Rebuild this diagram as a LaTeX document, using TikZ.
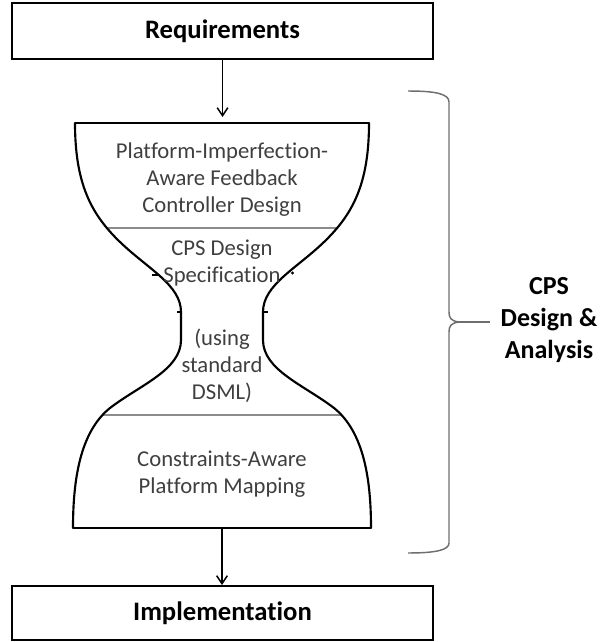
\documentclass[tikz,border=0pt]{standalone}
\usepackage{fontspec}
\setmainfont{Carlito}[Ligatures=NoCommon]
\usetikzlibrary{arrows.meta}

\definecolor{txtgray}{HTML}{3F3F3F}
\definecolor{divgray}{HTML}{8C8C8C}
\definecolor{bracegray}{HTML}{6E6E6E}

\tikzset{
  stagebox/.style={draw=black,line width=1.5pt,minimum width=315.75pt,inner sep=0pt,
    font=\fontsize{20}{24}\selectfont\bfseries},
  glasstext/.style={align=center,text=txtgray,inner sep=0pt,
    font=\fontsize{17}{20.25}\selectfont},
  glassside/.style={line width=1.6pt,line cap=round,line join=round},
  divider/.style={divgray,line width=0.8pt},
  flow/.style={line width=1.1pt,-{Straight Barb[length=6pt,width=8pt]}},
}

% outline of the hourglass, left and right halves
\def\leftside{(75,123) .. controls (75,185) and (92,215) .. (120,242)
  .. controls (148,269) and (181,285) .. (181,312) -- (181,340)
  .. controls (181,370) and (140,385) .. (110,408)
  .. controls (80,432) and (73,480) .. (73,528)}
\def\rightside{(369,123) .. controls (369,185) and (352,215) .. (324,242)
  .. controls (296,269) and (263,285) .. (263,312) -- (263,340)
  .. controls (263,370) and (304,385) .. (334,408)
  .. controls (364,432) and (371,480) .. (371,528)}

\begin{document}
\begin{tikzpicture}[x=0.75pt,y=-0.75pt]
\useasboundingbox (0,0) rectangle (606,642);

% in and out
\node[stagebox,minimum height=42pt] (req) at (222.5,31) {Requirements};
\node[stagebox,minimum height=40.5pt] (impl) at (222.5,613) {Implementation};

\coordinate (glasstop) at (222,117);
\coordinate (glassbot) at (222,528);

% dividers, cut to the inside of the glass
\begin{scope}
\clip \leftside -- (450,528) -- (450,123) -- cycle;
\clip \rightside -- (0,528) -- (0,123) -- cycle;
\draw[divider] (40,228) -- (400,228);
\draw[divider] (40,415) -- (400,415);
\end{scope}

% glass
\draw[line width=1.2pt] (75,123) -- (369,123); %top
\draw[line width=1.2pt] (73,528) -- (371,528); %bottom
\draw[glassside] \leftside;
\draw[glassside] \rightside;

% small marks on the sides
\draw[line width=1pt] (152,275) -- (158,275);
\fill (292.5,273) circle (1.6);
\draw[line width=1pt] (177,312) -- (181,312);
\draw[line width=1pt] (263,312) -- (268,312);

\node[glasstext] (ctrl) at (222,180) {Platform-Imperfection-\\Aware Feedback\\Controller Design};
\node[glasstext] (spec) at (222,263) {CPS Design\\Specification};
\node[glasstext] (dsml) at (222,366) {(using\\standard\\DSML)};
\node[glasstext] (mapping) at (222,474) {Constraints-Aware\\Platform Mapping};

\draw[flow] (req.south) -- (req.south |- glasstop);
\draw[flow] (glassbot) -- (glassbot |- impl.north);

% brace
\node[align=center,inner sep=0pt,font=\fontsize{19.5}{24}\selectfont\bfseries] (cpslbl) at (549,320) {CPS\\Design \&\\Analysis};
\draw[bracegray,line width=1.1pt] (408,91) .. controls (436,91) and (449,94) .. (449,102)
  -- (449,312) .. controls (449,318) and (451,321) .. (459,322)
  .. controls (451,323) and (449,326) .. (449,332)
  -- (449,543) .. controls (449,550) and (436,553) .. (408,553);
\draw[bracegray,line width=1.1pt] (459,322) -- (490,322);

\end{tikzpicture}
\end{document}
